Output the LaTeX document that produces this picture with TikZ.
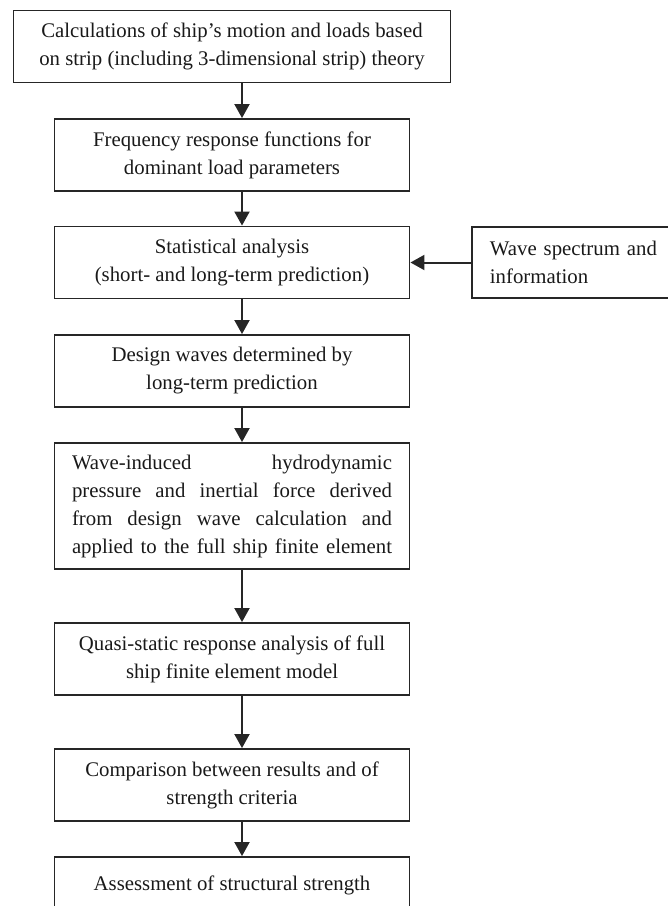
\documentclass[tikz,border=0pt]{standalone}
\usepackage{fontspec}
\setmainfont{Liberation Serif}
\usetikzlibrary{arrows.meta}

\begin{document}
\begin{tikzpicture}[x=1pt, y=-1pt,
      stage/.style={draw=black!85, line width=1.9pt,
                    minimum width=355pt, minimum height=72pt,
                    inner sep=0pt, align=center, text=black!90,
                    font=\fontsize{20.8}{28}\selectfont},
      widestage/.style={stage, minimum width=437pt},
      flow/.style={-{Triangle[length=14pt,width=15pt]},
                   line width=2pt, draw=black!85},
    ]
    \useasboundingbox (0,0) rectangle (668,906);
    \def\jw{320pt}
    %% main column
    \node[widestage] (calc) at (232,46.5)
      {Calculations of ship's motion and loads based\\on strip (including 3-dimensional strip) theory};
    \node[stage] (freq) at (232,155)
      {Frequency response functions for\\dominant load parameters};
    \node[stage] (stat) at (232,262.5)
      {Statistical analysis\\(short- and long-term prediction)};
    \node[stage] (design) at (232,371)
      {Design waves determined by\\long-term prediction};
    \node[stage, minimum height=126pt] (press) at (232,506)
      {\makebox[\jw][s]{Wave-induced hydrodynamic}\\
       \makebox[\jw][s]{pressure and inertial force derived}\\
       \makebox[\jw][s]{from design wave calculation and}\\
       \makebox[\jw][s]{applied to the full ship finite element}};
    \node[stage] (quasi) at (232,659)
      {Quasi-static response analysis of full\\ship finite element model};
    \node[stage] (comp) at (232,785)
      {Comparison between results and of\\strength criteria};
    \node[stage, minimum height=56pt] (assess) at (232,885)
      {Assessment of structural strength};
    %% side input
    \node[stage, anchor=west, minimum width=0pt, text width=174pt,
          align=left, inner xsep=18pt, minimum height=71pt] (wave) at (471,262.5)
      {\makebox[174pt][s]{Wave spectrum and}\\information};

    %% arrows
    \draw[flow] ([xshift=10pt]calc.south) -- ([xshift=10pt]freq.north);
    \draw[flow] ([xshift=10pt]freq.south) -- ([xshift=10pt]stat.north);
    \draw[flow] ([xshift=10pt]stat.south) -- ([xshift=10pt]design.north);
    \draw[flow] ([xshift=10pt]design.south) -- ([xshift=10pt]press.north);
    \draw[flow] ([xshift=10pt]press.south) -- ([xshift=10pt]quasi.north);
    \draw[flow] ([xshift=10pt]quasi.south) -- ([xshift=10pt]comp.north);
    \draw[flow] ([xshift=10pt]comp.south) -- ([xshift=10pt]assess.north);
    \draw[flow] (wave.west) -- (stat.east);
\end{tikzpicture}
\end{document}
